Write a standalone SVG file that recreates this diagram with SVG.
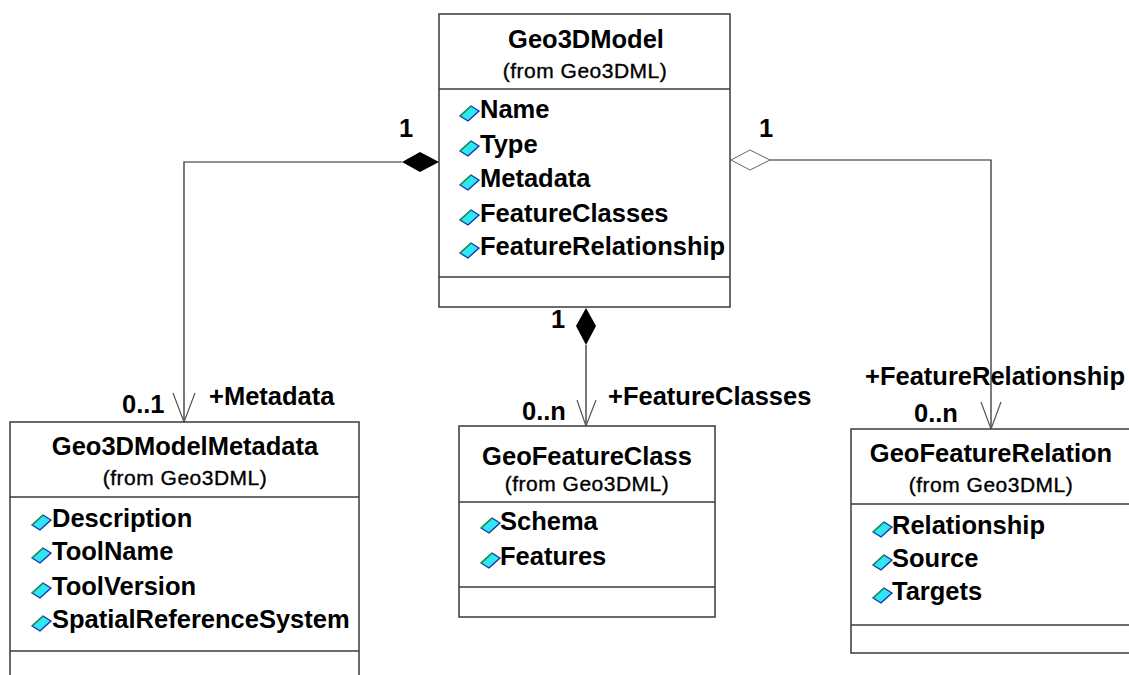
<svg xmlns="http://www.w3.org/2000/svg" width="1129" height="675" viewBox="0 0 1129 675">
<style>
.box{fill:#fff;stroke:#3a3a3a;stroke-width:1.5}
.div{stroke:#3a3a3a;stroke-width:1.5}
.t{font-family:"Liberation Sans",Arial,sans-serif;font-weight:bold;font-size:25.5px;fill:#000}
.f{font-family:"Liberation Sans",Arial,sans-serif;font-size:21px;letter-spacing:0.5px;fill:#000;stroke:#000;stroke-width:0.35}
.c{text-anchor:middle}
.ln{fill:none;stroke:#222;stroke-width:1.2}
.ar{fill:none;stroke:#555;stroke-width:1.2}
</style>
<defs>
<g id="ic">
<polygon points="0,13 11,3 19,8 8,18" fill="#30e6f2" stroke="#1030b0" stroke-width="1.3"/>
<polyline points="0,13 11,3" fill="none" stroke="#20a040" stroke-width="1.3"/>
</g>
</defs>
<rect width="1129" height="675" fill="#fff"/>

<g id="connectors">
<path class="ln" d="M402,162 H184 V421"/>
<polygon points="439,162 420,152 402,162 420,172" fill="#000"/>
<path class="ar" d="M173,393 L184,422 L195,393"/>
<path class="ln" d="M770,160 H991 V428"/>
<polygon points="731,160 750,150 770,160 750,170" fill="#fff" stroke="#666" stroke-width="1"/>
<path class="ar" d="M981,402 L991,429 L1001,402"/>
<path class="ln" d="M586,345 V425"/>
<polygon points="586,308 596,326 586,345 576,326" fill="#000"/>
<path class="ar" d="M577,400 L586,426 L596,400"/>
<text class="t" x="399" y="137">1</text>
<text class="t" x="759" y="137">1</text>
<text class="t" x="551" y="328">1</text>
<text class="t" x="122" y="413">0..1</text>
<text class="t" x="209" y="405">+Metadata</text>
<text class="t" x="522" y="420">0..n</text>
<text class="t" x="608" y="405">+FeatureClasses</text>
<text class="t" x="865" y="385">+FeatureRelationship</text>
<text class="t" x="914" y="422">0..n</text>
</g>

<g id="Geo3DModel">
<rect class="box" x="439" y="14" width="291" height="293"/>
<line class="div" x1="439" y1="89" x2="730" y2="89"/>
<line class="div" x1="439" y1="277" x2="730" y2="277"/>
<text class="t c" x="586" y="48">Geo3DModel</text>
<text class="f c" x="585" y="78">(from Geo3DML)</text>
<use href="#ic" x="460" y="103"/><text class="t" x="480" y="118">Name</text>
<use href="#ic" x="460" y="138"/><text class="t" x="480" y="153">Type</text>
<use href="#ic" x="460" y="172"/><text class="t" x="480" y="187">Metadata</text>
<use href="#ic" x="460" y="207"/><text class="t" x="480" y="222">FeatureClasses</text>
<use href="#ic" x="460" y="240"/><text class="t" x="480" y="255">FeatureRelationship</text>
</g>

<g id="Geo3DModelMetadata">
<rect class="box" x="10" y="422" width="349" height="270"/>
<line class="div" x1="10" y1="497" x2="359" y2="497"/>
<line class="div" x1="10" y1="651" x2="359" y2="651"/>
<text class="t c" x="185" y="455">Geo3DModelMetadata</text>
<text class="f c" x="185" y="485">(from Geo3DML)</text>
<use href="#ic" x="32" y="512"/><text class="t" x="52" y="527">Description</text>
<use href="#ic" x="32" y="545"/><text class="t" x="52" y="560">ToolName</text>
<use href="#ic" x="32" y="580"/><text class="t" x="52" y="595">ToolVersion</text>
<use href="#ic" x="32" y="613"/><text class="t" x="52" y="628">SpatialReferenceSystem</text>
</g>

<g id="GeoFeatureClass">
<rect class="box" x="459" y="426" width="256" height="191"/>
<line class="div" x1="459" y1="502" x2="715" y2="502"/>
<line class="div" x1="459" y1="587" x2="715" y2="587"/>
<text class="t c" x="587" y="465">GeoFeatureClass</text>
<text class="f c" x="587" y="491">(from Geo3DML)</text>
<use href="#ic" x="481" y="515"/><text class="t" x="500" y="530">Schema</text>
<use href="#ic" x="481" y="550"/><text class="t" x="500" y="565">Features</text>
</g>

<g id="GeoFeatureRelation">
<rect class="box" x="851" y="429" width="290" height="224"/>
<line class="div" x1="851" y1="504" x2="1141" y2="504"/>
<line class="div" x1="851" y1="625" x2="1141" y2="625"/>
<text class="t c" x="991" y="462">GeoFeatureRelation</text>
<text class="f c" x="991" y="492">(from Geo3DML)</text>
<use href="#ic" x="873" y="519"/><text class="t" x="892" y="534">Relationship</text>
<use href="#ic" x="873" y="552"/><text class="t" x="892" y="567">Source</text>
<use href="#ic" x="873" y="585"/><text class="t" x="892" y="600">Targets</text>
</g>
</svg>
